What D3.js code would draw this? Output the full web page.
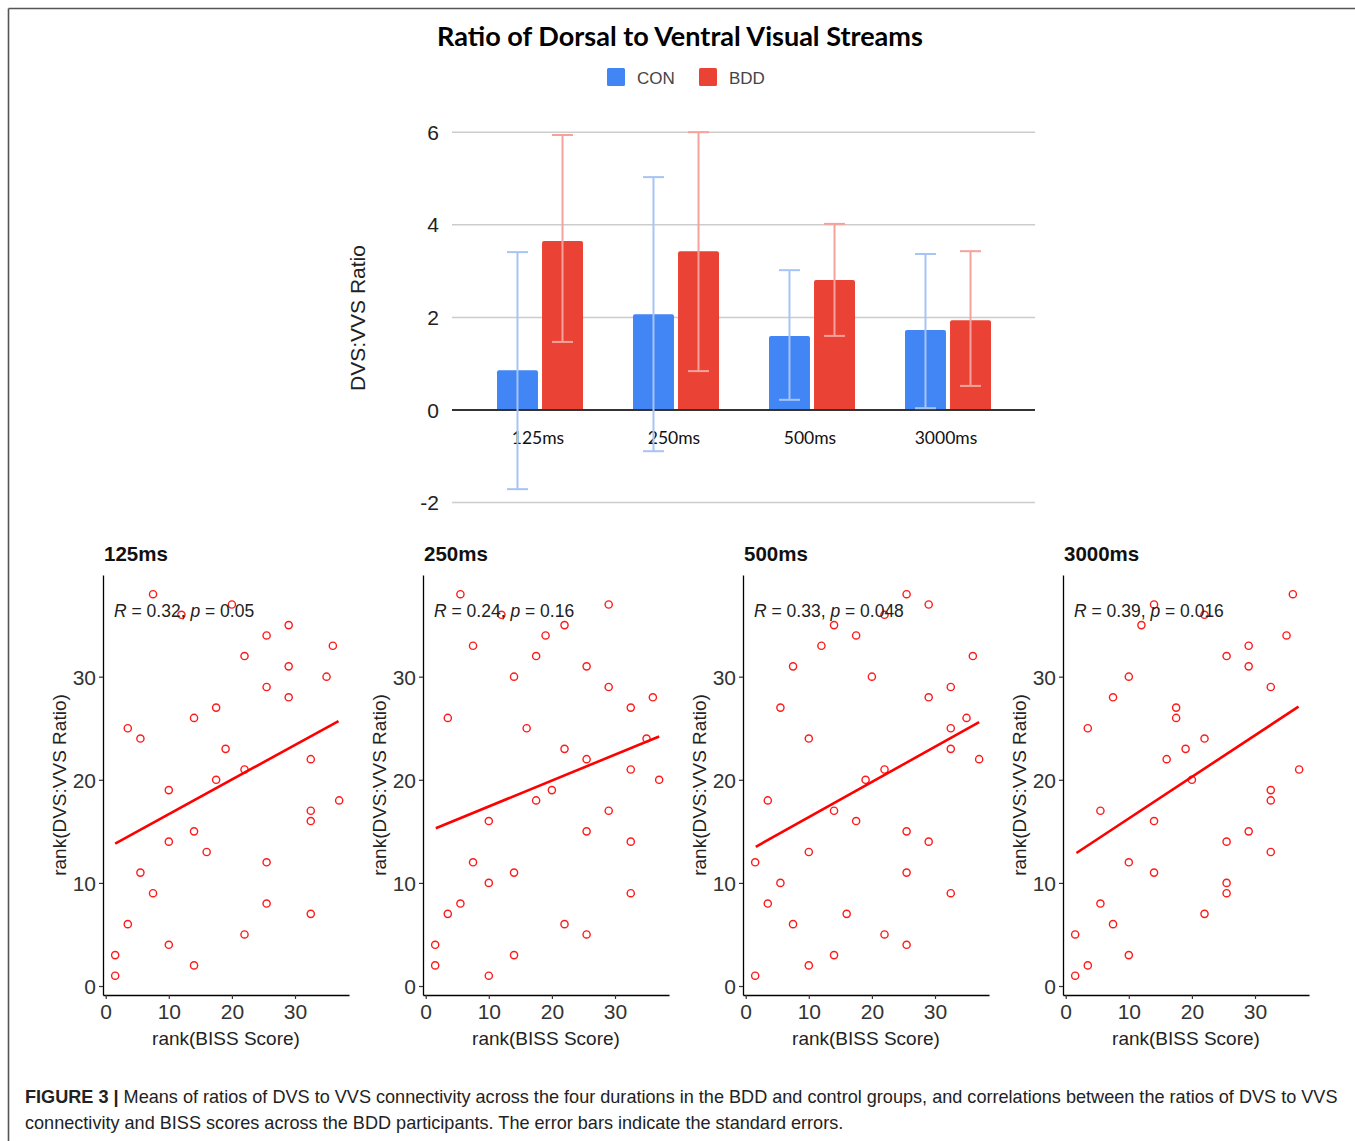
<!DOCTYPE html>
<html>
<head>
<meta charset="utf-8">
<script src="https://cdn.jsdelivr.net/npm/d3@7/dist/d3.min.js"></script>
<style>
  body { margin: 0; background: #fff; }
  svg { display: block; }
  .tick text { font-family: "Liberation Sans", Arial, sans-serif; }
</style>
</head>
<body>
<svg id="fig" width="1355" height="1141"></svg>
<script>
// ---- bar chart data ----
var durations = ["125ms", "250ms", "500ms", "3000ms"];
var groups = ["CON", "BDD"];
var conMean = [0.86, 2.07, 1.60, 1.73];
var bddMean = [3.65, 3.43, 2.81, 1.94];
var conLow  = [-1.71, -0.89, 0.22, 0.04];
var conHigh = [3.41, 5.03, 3.02, 3.37];
var bddLow  = [1.47, 0.84, 1.60, 0.52];
var bddHigh = [5.94, 6.00, 4.02, 3.43];
var barTicks = [-2, 0, 2, 4, 6];

// ---- scatter data (rank BISS, rank ratio) ----
var biss125 = [7.5,20,12,29,25.5,36,22,29,35,25.5,29,17.5,14,3.5,5.5,19,32.5,22,17.5,10,37,32.5,32.5,14,10,16,25.5,5.5,7.5,25.5,32.5,3.5,22,10,1.5,14,1.5];
var rank125 = [38,37,36,35,34,33,32,31,30,29,28,27,26,25,24,23,22,21,20,19,18,17,16,15,14,13,12,11,9,8,7,6,5,4,3,2,1];
var biss250 = [5.5,29,12,22,19,7.5,17.5,25.5,14,29,36,32.5,3.5,16,35,22,25.5,32.5,37,20,17.5,29,10,25.5,32.5,7.5,14,10,32.5,5.5,3.5,22,25.5,1.5,14,1.5,10];
var rank250 = [38,37,36,35,34,33,32,31,30,29,28,27,26,25,24,23,22,21,20,19,18,17,16,15,14,12,11,10,9,8,7,6,5,4,3,2,1];
var biss500 = [25.5,29,22,14,17.5,12,36,7.5,20,32.5,29,5.5,35,32.5,10,32.5,37,22,19,3.5,14,17.5,25.5,29,10,1.5,25.5,5.5,32.5,3.5,16,7.5,22,25.5,14,10,1.5];
var rank500 = [38,37,36,35,34,33,32,31,30,29,28,27,26,25,24,23,22,21,20,18,17,16,15,14,13,12,11,10,9,8,7,6,5,4,3,2,1];
var biss3000 = [36,14,22,12,35,29,25.5,29,10,32.5,7.5,17.5,17.5,3.5,22,19,16,37,20,32.5,32.5,5.5,14,29,25.5,32.5,10,14,25.5,25.5,5.5,22,7.5,1.5,10,3.5,1.5];
var rank3000 = [38,37,36,35,34,33,32,31,30,29,28,27,26,25,24,23,22,21,20,19,18,17,16,15,14,13,12,11,10,9,8,7,6,5,3,2,1];
// fitted line end points: [x0, y0, x1, y1]
var fitLines = [[1.5,13.8,36.9,25.7],[1.6,15.3,37,24.2],[1.6,13.5,37,25.6],[1.7,12.9,36.9,27.1]];
var rVals = ["0.32", "0.24", "0.33", "0.39"];
var pVals = ["0.05", "0.16", "0.048", "0.016"];
var scatterTicks = [0, 10, 20, 30];

var caption1 = "Means of ratios of DVS to VVS connectivity across the four durations in the BDD and control groups, and correlations between the ratios of DVS to VVS";
var caption2 = "connectivity and BISS scores across the BDD participants. The error bars indicate the standard errors.";

var svg = d3.select("#fig");
var arial = '"Liberation Sans", Arial, sans-serif';

// frame (top + left edges only)
svg.append("line").attr("x1",8.5).attr("y1",8.5).attr("x2",1355).attr("y2",8.5)
	.attr("stroke","#555").attr("stroke-width",1.6);
svg.append("line").attr("x1",8.5).attr("y1",8.5).attr("x2",8.5).attr("y2",1141)
	.attr("stroke","#555").attr("stroke-width",1.6);

function fitText(sel, target){
	var w = sel.node().getComputedTextLength();
	var fs = parseFloat(sel.attr("font-size"));
	sel.attr("font-size", fs*target/w);
}

// ---- title + legend ----
var title = svg.append("text").attr("x",680).attr("y",46).attr("text-anchor","middle")
	.attr("font-family","Lato, 'Open Sans', sans-serif").attr("font-weight","bold")
	.attr("font-size",25).attr("fill","#000").text("Ratio of Dorsal to Ventral Visual Streams");
fitText(title, 486);

var barColor = {CON:"#4285f4", BDD:"#ea4335"};
var errColor = {CON:"#a6c4f7", BDD:"#f4a29b"};
var legendX = {CON:607, BDD:699};
groups.forEach(function(g){
	svg.append("rect").attr("x",legendX[g]).attr("y",68).attr("width",18).attr("height",18)
		.attr("rx",1.5).attr("fill",barColor[g]);
	svg.append("text").attr("x",legendX[g]+30).attr("y",83.5)
		.attr("font-family",arial).attr("font-size",17).attr("fill","#444").text(g);
});

// ---- bar chart ----
var y = d3.scaleLinear().domain([-2,6]).range([502.6,132.2]);
var x0 = d3.scaleBand().domain(durations).range([472,1016]);
var x1 = d3.scaleBand().domain(groups).range([25,111]).paddingInner(0.09);

svg.append("g").selectAll("line").data(barTicks.filter(function(t){return t!=0;})).enter()
	.append("line").attr("x1",452).attr("x2",1035)
	.attr("y1",function(d){return y(d);}).attr("y2",function(d){return y(d);})
	.attr("stroke","#cccccc").attr("stroke-width",1.5);
svg.append("g").selectAll("text").data(barTicks).enter().append("text")
	.attr("x",439).attr("y",function(d){return y(d)+7.5;}).attr("text-anchor","end")
	.attr("font-family",arial).attr("font-size",21).attr("fill","#222")
	.text(function(d){return d;});

svg.append("text").attr("transform","translate(365,318) rotate(-90)").attr("text-anchor","middle")
	.attr("font-family",arial).attr("font-size",21).attr("fill","#222").text("DVS:VVS Ratio");

var barRows = [];
durations.forEach(function(d,i){
	barRows.push({cat:d, g:"CON", v:conMean[i], lo:conLow[i], hi:conHigh[i]});
	barRows.push({cat:d, g:"BDD", v:bddMean[i], lo:bddLow[i], hi:bddHigh[i]});
});

var bars = svg.append("g");
bars.selectAll("path").data(barRows).enter().append("path")
	.attr("fill",function(d){return barColor[d.g];})
	.attr("d",function(d){
		var bx = x0(d.cat)+x1(d.g), bw = x1.bandwidth(), top = y(d.v), base = y(0), r = 2;
		return "M"+bx+","+base+"V"+(top+r)+"Q"+bx+","+top+" "+(bx+r)+","+top+
			"H"+(bx+bw-r)+"Q"+(bx+bw)+","+top+" "+(bx+bw)+","+(top+r)+"V"+base+"Z";
	});

svg.append("line").attr("x1",452).attr("x2",1035).attr("y1",y(0)).attr("y2",y(0))
	.attr("stroke","#333").attr("stroke-width",2);

svg.append("g").selectAll("text").data(durations).enter().append("text")
	.attr("x",function(d){return x0(d)+x0.bandwidth()/2-2;}).attr("y",444)
	.attr("text-anchor","middle").attr("font-family","Lato, 'Open Sans', sans-serif")
	.attr("font-size",17.5).attr("fill","#111").text(function(d){return d;});

var err = svg.append("g");
barRows.forEach(function(d){
	var cx = x0(d.cat)+x1(d.g)+x1.bandwidth()/2;
	var c = errColor[d.g];
	err.append("line").attr("x1",cx).attr("x2",cx).attr("y1",y(d.lo)).attr("y2",y(d.hi))
		.attr("stroke",c).attr("stroke-width",2);
	[d.lo,d.hi].forEach(function(v){
		err.append("line").attr("x1",cx-10.5).attr("x2",cx+10.5).attr("y1",y(v)).attr("y2",y(v))
			.attr("stroke",c).attr("stroke-width",2);
	});
});

// ---- scatter panels ----
var panels = [
	{xs:biss125, ys:rank125},
	{xs:biss250, ys:rank250},
	{xs:biss500, ys:rank500},
	{xs:biss3000, ys:rank3000}
];

panels.forEach(function(p,i){
	var ox = 320*i;
	var sx = d3.scaleLinear().domain([-0.43,38.56]).range([103+ox,349+ox]);
	var sy = d3.scaleLinear().domain([-0.87,39.86]).range([995,575]);
	var g = svg.append("g");

	g.append("text").attr("x",104+ox).attr("y",561).attr("font-family",arial)
		.attr("font-weight","bold").attr("font-size",20.5).attr("fill","#111").text(durations[i]);

	var ax = g.append("g").attr("transform","translate(0,995)")
		.call(d3.axisBottom(sx).tickValues(scatterTicks).tickSize(4).tickSizeOuter(0).tickPadding(5));
	var ay = g.append("g").attr("transform","translate("+(103+ox)+",0)")
		.call(d3.axisLeft(sy).tickValues(scatterTicks).tickSize(4).tickSizeOuter(0).tickPadding(3));
	[ax,ay].forEach(function(a){
		a.select(".domain").attr("stroke","#000").attr("stroke-width",1.3);
		a.selectAll(".tick line").attr("stroke","#333").attr("stroke-width",1.2);
		a.selectAll(".tick text").attr("font-size",21).attr("fill","#333");
	});
	ay.selectAll(".tick text").attr("dy","0.36em");

	g.append("text").attr("x",226+ox).attr("y",1045).attr("text-anchor","middle")
		.attr("font-family",arial).attr("font-size",19).attr("fill","#222").text("rank(BISS Score)");
	g.append("text").attr("transform","translate("+(66+ox)+",785) rotate(-90)").attr("text-anchor","middle")
		.attr("font-family",arial).attr("font-size",19).attr("fill","#222").text("rank(DVS:VVS Ratio)");

	g.selectAll("circle").data(p.ys).enter().append("circle")
		.attr("cx",function(d,k){return sx(p.xs[k]);})
		.attr("cy",function(d){return sy(d);})
		.attr("r",3.6).attr("fill","none").attr("stroke","#ff1a1a").attr("stroke-width",1.4);

	var f = fitLines[i];
	g.append("line").attr("x1",sx(f[0])).attr("y1",sy(f[1])).attr("x2",sx(f[2])).attr("y2",sy(f[3]))
		.attr("stroke","#ff0000").attr("stroke-width",2.6);

	var t = g.append("text").attr("x",114+ox).attr("y",617).attr("font-family",arial)
		.attr("font-size",17.5).attr("fill","#222");
	t.append("tspan").attr("font-style","italic").text("R");
	t.append("tspan").text(" = " + rVals[i] + ", ");
	t.append("tspan").attr("font-style","italic").text("p");
	t.append("tspan").text(" = " + pVals[i]);
});

// ---- caption ----
var cap1 = svg.append("text").attr("x",25).attr("y",1103).attr("font-family",arial)
	.attr("font-size",17).attr("fill","#222");
cap1.append("tspan").attr("font-weight","bold").text("FIGURE 3 | ");
cap1.append("tspan").text(caption1);
fitText(cap1, 1313);
var cap2 = svg.append("text").attr("x",25).attr("y",1129).attr("font-family",arial)
	.attr("font-size",cap1.attr("font-size")).attr("fill","#222").text(caption2);
</script>
</body>
</html>
